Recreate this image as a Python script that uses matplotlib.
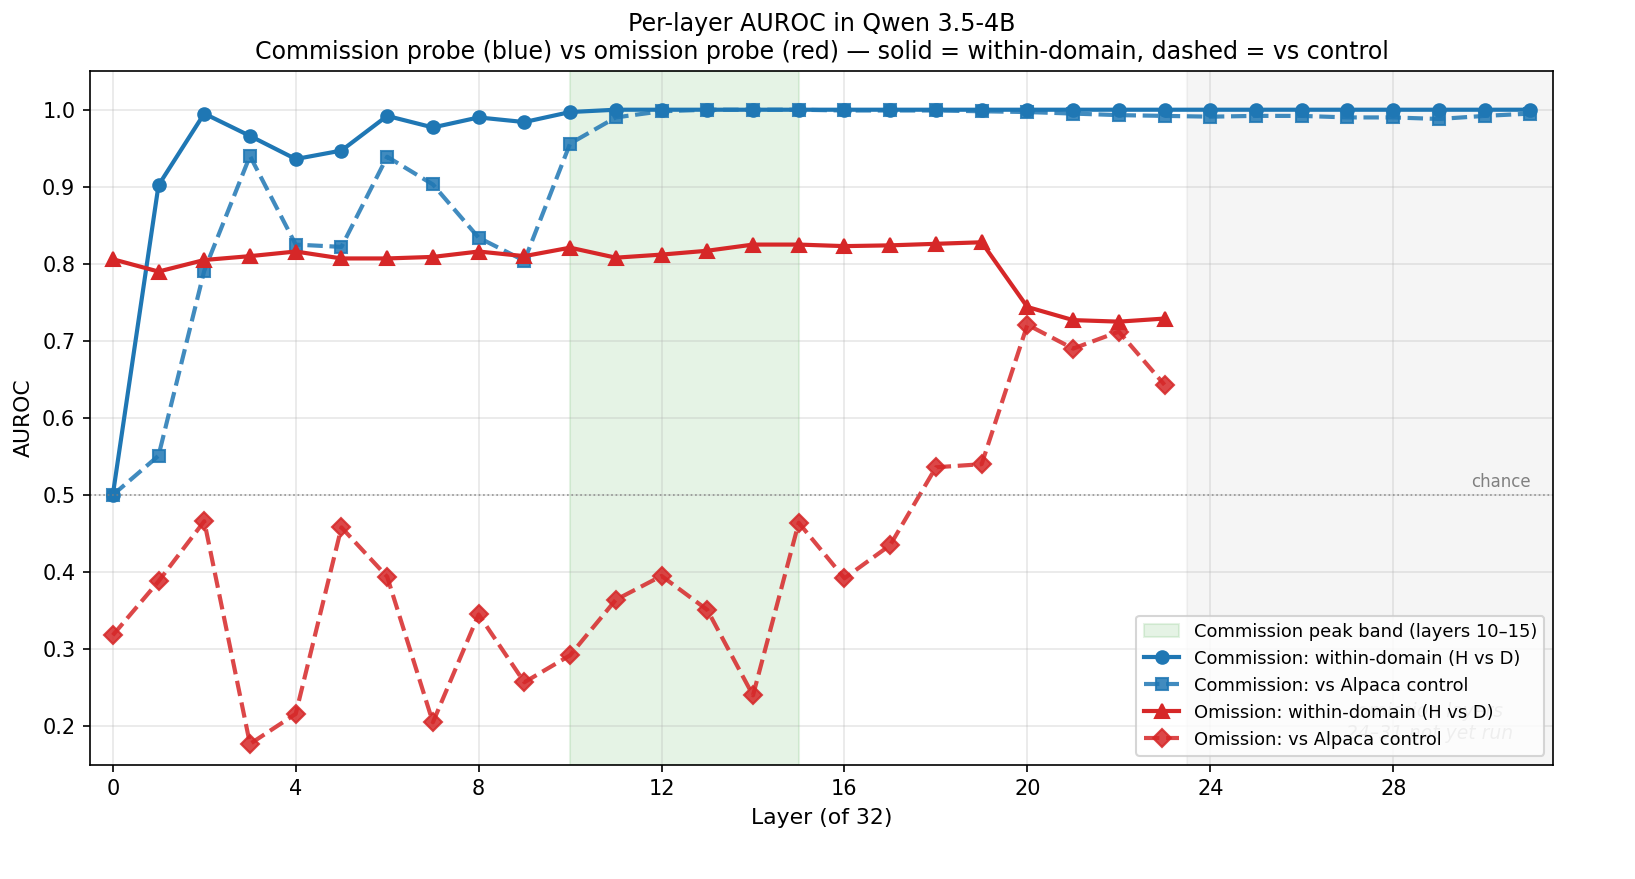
import matplotlib
matplotlib.use("Agg")
import matplotlib.pyplot as plt
import numpy as np

layers_comm = list(range(32))
layers_om = list(range(24))

comm_within = [0.500, 0.902, 0.995, 0.966, 0.936, 0.947, 0.992, 0.977, 0.990, 0.984,
               0.997, 1.000, 1.000, 1.000, 1.000, 1.000, 1.000, 1.000, 1.000, 1.000,
               1.000, 1.000, 1.000, 1.000, 1.000, 1.000, 1.000, 1.000, 1.000, 1.000,
               1.000, 1.000]
comm_control = [0.500, 0.551, 0.791, 0.940, 0.825, 0.822, 0.939, 0.903, 0.834, 0.804,
                0.956, 0.990, 0.998, 1.000, 1.000, 1.000, 0.999, 0.999, 0.999, 0.998,
                0.997, 0.995, 0.993, 0.992, 0.991, 0.992, 0.992, 0.990, 0.990, 0.988,
                0.992, 0.995]
om_within = [0.806, 0.790, 0.805, 0.810, 0.816, 0.807, 0.807, 0.809, 0.816, 0.810,
             0.821, 0.808, 0.812, 0.817, 0.825, 0.825, 0.823, 0.824, 0.826, 0.828,
             0.744, 0.727, 0.725, 0.729]
om_control = [0.318, 0.388, 0.466, 0.177, 0.216, 0.458, 0.394, 0.205, 0.345, 0.257,
              0.292, 0.364, 0.395, 0.351, 0.240, 0.464, 0.392, 0.435, 0.536, 0.540,
              0.721, 0.690, 0.712, 0.643]

xticks = [0, 4, 8, 12, 16, 20, 24, 28]

fig = plt.figure(figsize=(10.9, 5.86), dpi=150)
ax = fig.add_axes([0.055, 0.130, 0.895, 0.789])

ax.axvspan(10, 15, color="tab:green", alpha=0.12, label="Commission peak band (layers 10–15)")
ax.axvspan(23.5, 31.5, color="gray", alpha=0.08)

ax.plot(layers_comm, comm_within, color="tab:blue", marker="o", lw=2, ms=6,
        label="Commission: within-domain (H vs D)")
ax.plot(layers_comm, comm_control, color="tab:blue", marker="s", lw=2, ms=6, ls="--", alpha=0.85,
        label="Commission: vs Alpaca control")
ax.plot(layers_om, om_within, color="tab:red", marker="^", lw=2, ms=7,
        label="Omission: within-domain (H vs D)")
ax.plot(layers_om, om_control, color="tab:red", marker="D", lw=2, ms=6, ls="--", alpha=0.85,
        label="Omission: vs Alpaca control")

ax.axhline(0.5, color="gray", ls=":", lw=0.8, alpha=0.8)
ax.text(31, 0.505, "chance", color="gray", fontsize=8, ha="right", va="bottom")
ax.text(28.8, 0.205, "omission layers\n24–31 not yet run", color="gray", fontsize=9,
        ha="center", va="center", style="italic", alpha=0.6)

ax.set_xlim(-0.5, 31.5)
ax.set_ylim(0.15, 1.05)
ax.set_xticks(xticks)
ax.grid(True, alpha=0.3)
ax.set_xlabel("Layer (of 32)", fontsize=10.5)
ax.set_ylabel("AUROC", fontsize=10.5)
ax.set_title("Per-layer AUROC in Qwen 3.5-4B\n"
             "Commission probe (blue) vs omission probe (red) — solid = within-domain, dashed = vs control",
             fontsize=11.4)
ax.legend(loc="lower right", fontsize=8.6)

fig.savefig("out.png", dpi=150)
